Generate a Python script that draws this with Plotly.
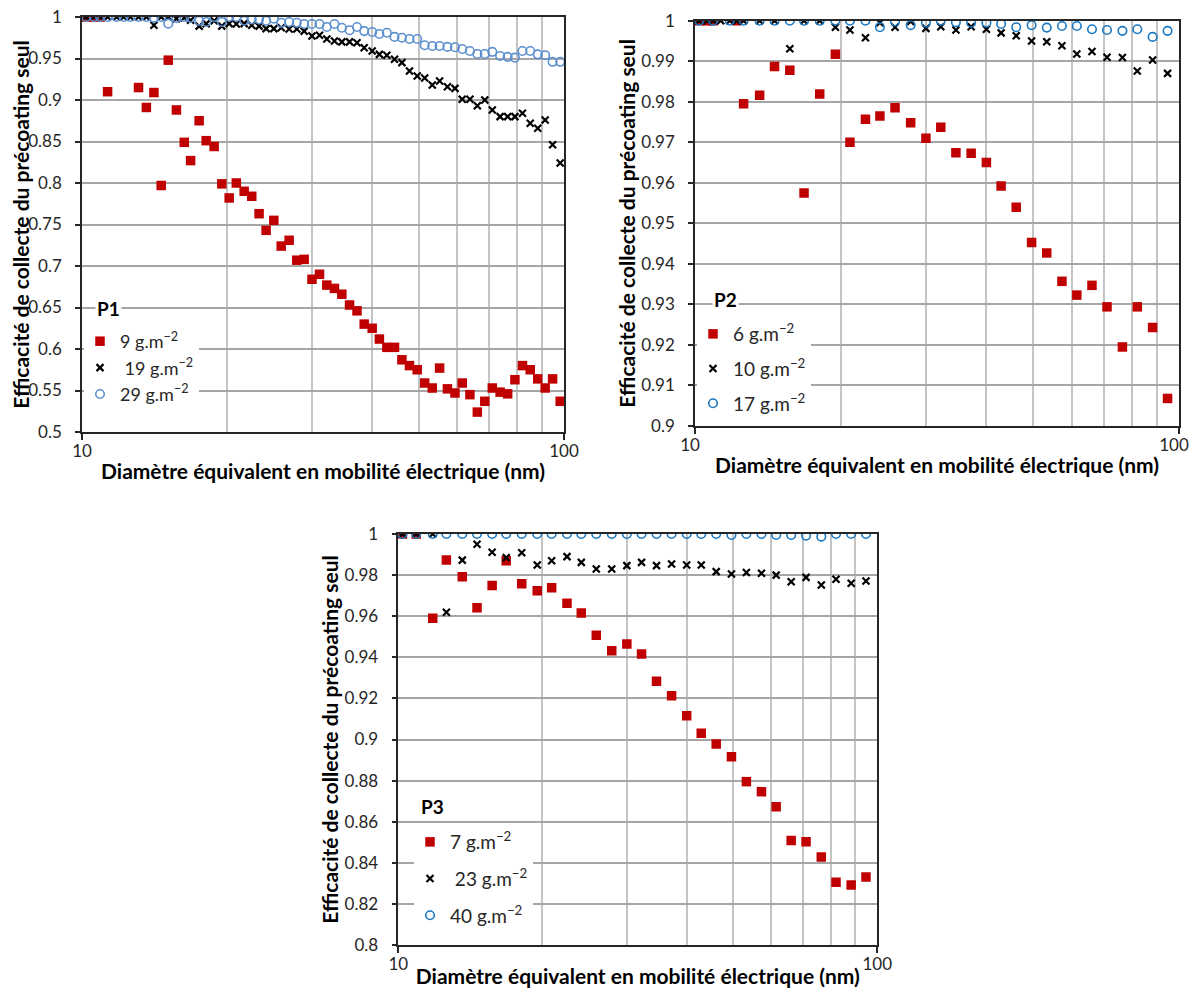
import plotly.graph_objects as go

# ---------------- data ----------------
# P1 (SMPS channels)
p1_x = [10.2, 10.6, 10.9, 11.3, 11.8, 12.2, 12.6, 13.1, 13.6, 14.1, 14.6, 15.1, 15.7, 16.3, 16.8,
        17.5, 18.1, 18.8, 19.5, 20.2, 20.9, 21.7, 22.5, 23.3, 24.1, 25.0, 25.9, 26.9, 27.9, 28.9,
        30.0, 31.1, 32.2, 33.4, 34.6, 35.9, 37.2, 38.5, 40.0, 41.4, 42.9, 44.5, 46.1, 47.8, 49.6,
        51.4, 53.3, 55.2, 57.3, 59.4, 61.5, 63.8, 66.1, 68.5, 71.0, 73.7, 76.4, 79.1, 82.0, 85.1,
        88.2, 91.4, 94.7, 98.2]
p1_9 = [1, 1, 1, 0.910, None, None, None, 0.915, 0.891, 0.909, 0.797, 0.948, 0.888, 0.849, 0.827,
        0.875, 0.851, 0.844, 0.799, 0.782, 0.800, 0.790, 0.784, 0.763, 0.743, 0.755, 0.724, 0.731,
        0.707, 0.708, 0.684, 0.690, 0.677, 0.673, 0.666, 0.653, 0.646, 0.630, 0.625, 0.612, 0.602,
        0.602, 0.587, 0.580, 0.575, 0.559, 0.553, 0.577, 0.552, 0.547, 0.559, 0.545, 0.524, 0.537,
        0.553, 0.548, 0.546, 0.563, 0.580, 0.575, 0.564, 0.553, 0.564, 0.537]
p1_19 = [1, 1, 1, 1, 1, 1, 1, 1, 1, 0.990, 1.0, 1.0, 0.998, 0.999, 0.996, 0.989, 0.992, 0.9955,
         0.989, 0.992, 0.9915, 0.992, 0.990, 0.989, 0.986, 0.986, 0.987, 0.9855, 0.9855, 0.983,
         0.977, 0.978, 0.9735, 0.971, 0.970, 0.970, 0.969, 0.963, 0.959, 0.955, 0.954, 0.949,
         0.945, 0.935, 0.929, 0.9265, 0.918, 0.923, 0.916, 0.914, 0.901, 0.901, 0.893, 0.900,
         0.888, 0.880, 0.880, 0.880, 0.884, 0.872, 0.866, 0.876, 0.846, 0.824]
p1_29 = [1, 1, 1, 1, 1, 1, 1, 1, 1, 0.999, 1.0, 0.992, 0.999, 1.0, 0.999, 0.9955, 0.994, 1.0,
         0.994, 1.0, 1.0, 0.9955, 0.997, 0.997, 0.9955, 0.998, 0.993, 0.994, 0.993, 0.9915,
         0.9915, 0.9915, 0.988, 0.9915, 0.987, 0.984, 0.988, 0.983, 0.982, 0.9795, 0.981, 0.976,
         0.975, 0.9735, 0.9735, 0.966, 0.965, 0.965, 0.964, 0.9635, 0.9615, 0.959, 0.9555, 0.9555,
         0.958, 0.953, 0.952, 0.951, 0.959, 0.959, 0.955, 0.954, 0.946, 0.946]

# P2
p2_x6 = [10.2, 10.6, 10.9, 12.2, 12.6, 13.6, 14.6, 15.7, 16.8, 18.1, 19.5, 20.9, 22.5, 24.1, 25.9,
         27.9, 30.0, 32.2, 34.6, 37.2, 40.0, 42.9, 46.1, 49.6, 53.3, 57.3, 61.5, 66.1, 71.0, 76.4,
         82.0, 88.2, 94.7]
p2_6 = [1, 1, 1, 1, 0.9795, 0.9816, 0.9887, 0.9878, 0.9575, 0.9819, 0.9917, 0.970, 0.9757, 0.9765,
        0.9785, 0.9748, 0.971, 0.9737, 0.9674, 0.9673, 0.965, 0.9592, 0.954, 0.9453, 0.9427,
        0.9357, 0.9323, 0.9347, 0.9294, 0.9195, 0.9294, 0.9243, 0.9068]
p2_x10 = [10.2, 10.6, 10.9, 11.3, 11.8, 12.2, 12.6, 13.6, 14.6, 15.7, 16.8, 18.1, 19.5, 20.9, 22.5,
          24.1, 25.9, 27.9, 30.0, 32.2, 34.6, 37.2, 40.0, 42.9, 46.1, 49.6, 53.3, 57.3, 61.5,
          66.1, 71.0, 76.4, 82.0, 88.2, 94.7]
p2_10 = [1, 1, 1, 1, 1, 1, 1, 1, 1, 0.9931, 1, 1, 0.9984, 0.9977, 0.9958, 0.9995, 0.9984, 0.9998,
         0.9981, 0.9985, 0.9977, 0.9985, 0.9979, 0.997, 0.9963, 0.995, 0.9948, 0.9938, 0.9918,
         0.9924, 0.991, 0.9909, 0.9876, 0.9903, 0.987]
p2_x17 = [10.2, 10.9, 11.8, 12.6, 13.6, 14.6, 15.7, 16.8, 18.1, 19.5, 20.9, 22.5, 24.1, 25.9, 27.9,
          30.0, 32.2, 34.6, 37.2, 40.0, 42.9, 46.1, 49.6, 53.3, 57.3, 61.5, 66.1, 71.0, 76.4,
          82.0, 88.2, 94.7]
p2_17 = [1, 1, 1, 1, 1, 1, 1, 1, 1, 1, 1, 1, 0.9984, 0.9998, 0.9989, 0.9995, 1.0, 0.9996, 0.9995,
         0.9995, 0.9992, 0.9984, 0.9989, 0.9983, 0.9987, 0.9987, 0.9979, 0.9977, 0.9975, 0.9979,
         0.996, 0.9975]

# P3
p3_x = [10.2, 10.9, 11.8, 12.6, 13.6, 14.6, 15.7, 16.8, 18.1, 19.5, 20.9, 22.5, 24.1, 25.9, 27.9,
        30.0, 32.2, 34.6, 37.2, 40.0, 42.9, 46.1, 49.6, 53.3, 57.3, 61.5, 66.1, 71.0, 76.4, 82.0,
        88.2, 94.7]
p3_7 = [1, 1, 0.959, 0.9873, 0.9792, 0.9641, 0.9749, 0.987, 0.9758, 0.9724, 0.9739, 0.9663, 0.9616,
        0.9507, 0.9432, 0.9465, 0.9416, 0.9283, 0.9213, 0.9116, 0.903, 0.8978, 0.8916, 0.8795,
        0.8746, 0.8673, 0.8508, 0.8503, 0.8428, 0.8305, 0.8292, 0.8331]
p3_23 = [1, 1, 1, 0.9619, 0.9873, 0.995, 0.9911, 0.9885, 0.9909, 0.9849, 0.987, 0.989, 0.9862,
         0.983, 0.983, 0.9846, 0.9862, 0.9846, 0.9854, 0.9849, 0.9849, 0.9817, 0.9805, 0.9813,
         0.9809, 0.980, 0.9768, 0.9789, 0.9752, 0.978, 0.976, 0.9771]
p3_40 = [1, 1, 1, 1, 1, 1, 1, 1, 1, 1, 1, 1, 1, 1, 1, 1, 1, 1, 1, 1, 1, 1, 0.9995, 1, 1, 0.9995,
         0.9995, 0.9992, 0.9987, 1, 1, 1]

# tick labels
x_major = [10, 100]
x_major_text = ["10", "100"]
x_minor = [20, 30, 40, 50, 60, 70, 80, 90]
p1_yticks = [0.5, 0.55, 0.6, 0.65, 0.7, 0.75, 0.8, 0.85, 0.9, 0.95, 1]
p1_ytext = ["0.5", "0.55", "0.6", "0.65", "0.7", "0.75", "0.8", "0.85", "0.9", "0.95", "1"]
p2_yticks = [0.9, 0.91, 0.92, 0.93, 0.94, 0.95, 0.96, 0.97, 0.98, 0.99, 1]
p2_ytext = ["0.9", "0.91", "0.92", "0.93", "0.94", "0.95", "0.96", "0.97", "0.98", "0.99", "1"]
p3_yticks = [0.8, 0.82, 0.84, 0.86, 0.88, 0.9, 0.92, 0.94, 0.96, 0.98, 1]
p3_ytext = ["0.8", "0.82", "0.84", "0.86", "0.88", "0.9", "0.92", "0.94", "0.96", "0.98", "1"]

XTITLE = "<b>Diamètre équivalent en mobilité électrique (nm)</b>"
YTITLE = "<b>Efficacité de collecte du précoating seul</b>"
FONT = "Lato"
RED = "#C00000"
BLACK = "#000000"
BLUE1 = "#5B8FD0"
BLUE = "#1A78C2"

fig = go.Figure()


def add_series(x, y, name, kind, xa, ya, leg, blue=BLUE):
    if kind == "sq":
        marker = dict(symbol="square", size=9.5, color=RED)
    elif kind == "x":
        marker = dict(symbol="x-thin-open", size=7, line=dict(color=BLACK, width=2.2), color=BLACK)
    else:
        marker = dict(symbol="circle-open", size=8.5, line=dict(color=blue, width=1.6), color=blue)
    fig.add_trace(go.Scatter(x=x, y=y, mode="markers", name=name, marker=marker,
                             xaxis=xa, yaxis=ya, legend=leg, legendgroup=leg + name,
                             hoverinfo="x+y"))


sup = "g.m<sup>−2</sup>"
add_series(p1_x, p1_9, "9 " + sup, "sq", "x", "y", "legend")
add_series(p1_x, p1_19, " 19 " + sup, "x", "x", "y", "legend")
add_series(p1_x, p1_29, "29 " + sup, "o", "x", "y", "legend", BLUE1)
add_series(p2_x6, p2_6, "6 " + sup, "sq", "x2", "y2", "legend2")
add_series(p2_x10, p2_10, "10 " + sup, "x", "x2", "y2", "legend2")
add_series(p2_x17, p2_17, "17 " + sup, "o", "x2", "y2", "legend2")
add_series(p3_x, p3_7, "7 " + sup, "sq", "x3", "y3", "legend3")
add_series(p3_x, p3_23, " 23 " + sup, "x", "x3", "y3", "legend3")
add_series(p3_x, p3_40, "40 " + sup, "o", "x3", "y3", "legend3")

# the html page has an 8 px body margin: the figure is made 16 px smaller so the page
# fits exactly in the 1199x996 window, and positions below are given in window pixels
OFF = 8
W, H = 1199 - 2 * OFF, 996 - 2 * OFF


def px(v):
    return (v - OFF) / W


def py(v):
    return 1 - (v - OFF) / H


def xaxis(l, r, anchor, shift=0):
    return dict(type="log", range=[1, 2], domain=[px(l), px(r)], anchor=anchor, automargin=False,
                tickvals=x_major, ticktext=x_major_text, ticks="outside", ticklen=6,
                tickcolor="#262626", tickwidth=1.5, showline=True, linecolor="#262626",
                linewidth=1.5, mirror=True, showgrid=False, zeroline=False,
                ticklabeloverflow="allow", ticklabelshift=shift,
                minor=dict(tickvals=x_minor, showgrid=True, gridcolor="#c4c4c4", gridwidth=1.5,
                           ticks=""),
                ticklabelstandoff=-3,
                tickfont=dict(family=FONT, size=17, color="#262626"),
                title=dict(text=XTITLE, standoff=4, font=dict(family=FONT, size=21, color="#000")))


def yaxis(t, b, anchor, rng, tv, tt):
    return dict(range=rng, domain=[py(b), py(t)], anchor=anchor, automargin=False,
                tickvals=tv, ticktext=tt, ticks="outside", ticklen=5, tickcolor="#262626",
                tickwidth=1.5, showline=True, linecolor="#262626", linewidth=1.5, mirror=True,
                showgrid=True, gridcolor="#a6a6a6", gridwidth=1.5, zeroline=False,
                ticklabeloverflow="allow", ticklabelstandoff=10,
                tickfont=dict(family=FONT, size=17, color="#262626"),
                title=dict(text=YTITLE, standoff=0, font=dict(family=FONT, size=21, color="#000")))


def legend(x, y, gap, size):
    return dict(x=px(x), y=py(y), xanchor="left", yanchor="top", bgcolor="white",
                font=dict(family=FONT, size=size, color="#262626"), traceorder="grouped",
                tracegroupgap=gap, itemwidth=30, borderwidth=0, indentation=-4)


def plabel(text, x, y):
    return dict(text="<b>%s</b>" % text, x=px(x), y=py(y), xref="paper", yref="paper",
                xanchor="center", yanchor="middle", showarrow=False, bgcolor="white",
                font=dict(family=FONT, size=19, color="#000"))


fig.update_layout(
    width=W, height=H, margin=dict(l=0, r=0, t=0, b=0, autoexpand=False),
    paper_bgcolor="white", plot_bgcolor="white",
    xaxis=xaxis(82, 564, "y"), yaxis=yaxis(17, 432, "x", [0.5, 1], p1_yticks, p1_ytext),
    xaxis2=xaxis(695, 1179, "y2", -5), yaxis2=yaxis(20.7, 426, "x2", [0.9, 1], p2_yticks, p2_ytext),
    xaxis3=xaxis(398.3, 877.3, "y3"), yaxis3=yaxis(534, 945, "x3", [0.8, 1], p3_yticks, p3_ytext),
    legend=legend(84, 323, 0, 18), legend2=legend(697, 315, 7, 19),
    legend3=legend(414, 823, 9, 19),
    annotations=[plabel("P1", 108, 308), plabel("P2", 725, 299), plabel("P3", 432, 806)],
    showlegend=True,
)

fig.write_html("out.html")
